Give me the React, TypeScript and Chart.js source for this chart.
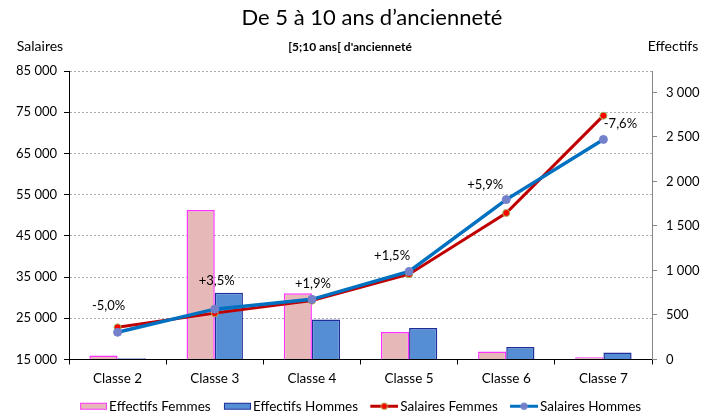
import React, { useEffect, useRef } from "react";
import { Chart, registerables } from "chart.js";

Chart.register(...registerables);

// ---- Data ----
const categories = ["Classe 2", "Classe 3", "Classe 4", "Classe 5", "Classe 6", "Classe 7"];
const effectifsFemmes = [45, 1680, 745, 309, 91, 26];
const effectifsHommes = [15, 750, 448, 354, 139, 79];
const salairesFemmes = [22800, 26250, 29280, 35710, 50550, 74170];
const salairesHommes = [21600, 27220, 29600, 36370, 53800, 68400];
const ecartLabels = ["-5,0%", "+3,5%", "+1,9%", "+1,5%", "+5,9%", "-7,6%"];
const salaireTicks = [15000, 25000, 35000, 45000, 55000, 65000, 75000, 85000];
const effectifTicks = [0, 500, 1000, 1500, 2000, 2500, 3000];
const seriesNames = ["Effectifs Femmes", "Effectifs Hommes", "Salaires Femmes", "Salaires Hommes"];
const titleText = "De 5 à 10 ans d’ancienneté";
const subtitleText = "[5;10 ans[ d'ancienneté";
const leftAxisTitle = "Salaires";
const rightAxisTitle = "Effectifs";

// ---- Style constants ----
const FONT = "Lato, 'Open Sans', sans-serif";
const LABEL_OFFSETS: [number, number][] = [
  [-9, -26],
  [2, -28],
  [1, -16],
  [-17, -16],
  [-21, -15],
  [17, -16],
];

const fmt = (v: number) => String(v).replace(/\B(?=(\d{3})+(?!\d))/g, " ");

function makeBoxIcon(fill: string, stroke: string) {
  const c = document.createElement("canvas");
  c.width = 35;
  c.height = 9;
  const ctx = c.getContext("2d")!;
  ctx.fillStyle = fill;
  ctx.fillRect(8, 1, 26, 7);
  ctx.strokeStyle = stroke;
  ctx.lineWidth = 1;
  ctx.strokeRect(8.5, 1.5, 26, 6);
  return c;
}

function makeLineIcon(line: string, pointFill: string, pointStroke: string) {
  const c = document.createElement("canvas");
  c.width = 35;
  c.height = 11;
  const ctx = c.getContext("2d")!;
  ctx.strokeStyle = line;
  ctx.lineWidth = 3;
  ctx.beginPath();
  ctx.moveTo(7, 5.5);
  ctx.lineTo(35, 5.5);
  ctx.stroke();
  ctx.beginPath();
  ctx.arc(21, 5.5, 3.3, 0, Math.PI * 2);
  ctx.fillStyle = pointFill;
  ctx.fill();
  ctx.lineWidth = 1;
  ctx.strokeStyle = pointStroke;
  ctx.stroke();
  return c;
}

const textPlugin = {
  id: "textPlugin",
  afterDraw(chart: any) {
    const { ctx, chartArea } = chart;
    ctx.save();
    ctx.fillStyle = "#000";
    ctx.textBaseline = "middle";
    ctx.textAlign = "center";
    ctx.font = `22px ${FONT}`;
    ctx.fillText(titleText, 372, 18);
    ctx.font = `bold 12px ${FONT}`;
    ctx.fillText(subtitleText, 350, 47);
    ctx.font = `14px ${FONT}`;
    ctx.fillText(leftAxisTitle, chartArea.left - 29, 46);
    ctx.fillText(rightAxisTitle, chartArea.right + 21, 46);

    // percentage labels anchored on the "Salaires Hommes" points
    const meta = chart.getDatasetMeta(3);
    ctx.font = `13px ${FONT}`;
    meta.data.forEach((pt: any, i: number) => {
      const [dx, dy] = LABEL_OFFSETS[i];
      ctx.fillText(ecartLabels[i], pt.x + dx, pt.y + dy);
    });
    ctx.restore();
  },
};

export default function App() {
  const ref = useRef<HTMLCanvasElement | null>(null);

  useEffect(() => {
    document.body.style.margin = "0";
    const icons = [
      makeBoxIcon("#E6B9B8", "#FF33FF"),
      makeBoxIcon("#558ED5", "#1F2F99"),
      makeLineIcon("#C00000", "#FF0000", "#9BBB59"),
      makeLineIcon("#0070C0", "#7281C9", "#7281C9"),
    ];
    const chart = new Chart(ref.current!, {
      type: "bar",
      data: {
        labels: categories,
        datasets: [
          {
            type: "bar",
            label: seriesNames[0],
            data: effectifsFemmes,
            yAxisID: "y1",
            backgroundColor: "#E6B9B8",
            borderColor: "#FF33FF",
            borderWidth: 1.5,
            order: 3,
          },
          {
            type: "bar",
            label: seriesNames[1],
            data: effectifsHommes,
            yAxisID: "y1",
            backgroundColor: "#558ED5",
            borderColor: "#1F2F99",
            borderWidth: 1.5,
            order: 3,
          },
          {
            type: "line",
            label: seriesNames[2],
            data: salairesFemmes,
            yAxisID: "y",
            borderColor: "#C00000",
            borderWidth: 3,
            backgroundColor: "#FF0000",
            pointBackgroundColor: "#FF0000",
            pointBorderColor: "#9BBB59",
            pointBorderWidth: 1,
            pointRadius: 3.5,
            tension: 0,
            order: 2,
          },
          {
            type: "line",
            label: seriesNames[3],
            data: salairesHommes,
            yAxisID: "y",
            borderColor: "#0070C0",
            borderWidth: 3.5,
            backgroundColor: "#7281C9",
            pointBackgroundColor: "#7281C9",
            pointBorderColor: "#7281C9",
            pointBorderWidth: 1,
            pointRadius: 4,
            tension: 0,
            order: 1,
          },
        ] as any,
      },
      options: {
        animation: false,
        responsive: false,
        maintainAspectRatio: false,
        layout: { padding: { top: 71, left: 0, right: 0, bottom: -9 } },
        datasets: {
          bar: { categoryPercentage: 0.58, barPercentage: 1 },
        } as any,
        plugins: {
          title: { display: false },
          tooltip: { enabled: false },
          legend: {
            display: true,
            position: "bottom",
            labels: {
              usePointStyle: true,
              pointStyleWidth: 25.5,
              boxHeight: 10,
              padding: 10,
              color: "#000",
              font: { family: FONT, size: 13.5 },
              generateLabels: () =>
                seriesNames.map((name, i) => ({
                  text: name,
                  pointStyle: icons[i],
                  datasetIndex: i,
                  hidden: false,
                  lineWidth: 0,
                  fillStyle: "transparent",
                  strokeStyle: "transparent",
                  fontColor: "#000",
                })) as any,
            },
          },
        },
        scales: {
          x: {
            type: "category",
            offset: true,
            grid: {
              offset: true,
              drawOnChartArea: false,
              drawTicks: true,
              tickLength: 5,
              color: "#000",
              tickColor: "#000",
            },
            border: { display: true, color: "#000", width: 1 },
            ticks: {
              color: "#000",
              font: { family: FONT, size: 13.5 },
              padding: 6,
              maxRotation: 0,
              autoSkip: false,
            },
            afterFit: (s: any) => {
              s.height = 30;
            },
          },
          y: {
            type: "linear",
            position: "left",
            min: salaireTicks[0],
            max: salaireTicks[salaireTicks.length - 1],
            afterBuildTicks: (s: any) => {
              s.ticks = salaireTicks.map((v) => ({ value: v }));
            },
            ticks: {
              callback: (v: any) => fmt(Number(v)),
              color: "#000",
              font: { family: FONT, size: 13 },
              padding: 7,
            },
            grid: {
              color: "#ABABAB",
              lineWidth: 1,
              tickColor: "#000",
              tickLength: 5,
              tickBorderDash: [],
            },
            border: { display: true, color: "#000", width: 1, dash: [2, 2] },
            afterFit: (s: any) => {
              s.width = 69;
            },
          },
          y1: {
            type: "linear",
            position: "right",
            min: 0,
            max: 3240,
            afterBuildTicks: (s: any) => {
              s.ticks = effectifTicks.map((v) => ({ value: v }));
            },
            ticks: {
              callback: (v: any) => fmt(Number(v)),
              color: "#000",
              font: { family: FONT, size: 13 },
              padding: 9,
            },
            grid: {
              drawOnChartArea: false,
              color: "#868686",
              tickColor: "#868686",
              tickLength: 5,
            },
            border: { display: true, color: "#868686", width: 1 },
            afterFit: (s: any) => {
              s.width = 66;
            },
          },
        },
      },
      plugins: [textPlugin],
    });
    return () => chart.destroy();
  }, []);

  return (
    <div style={{ width: 718, height: 414 }}>
      <canvas ref={ref} width={718} height={414} style={{ width: 718, height: 414, display: "block" }} />
    </div>
  );
}
